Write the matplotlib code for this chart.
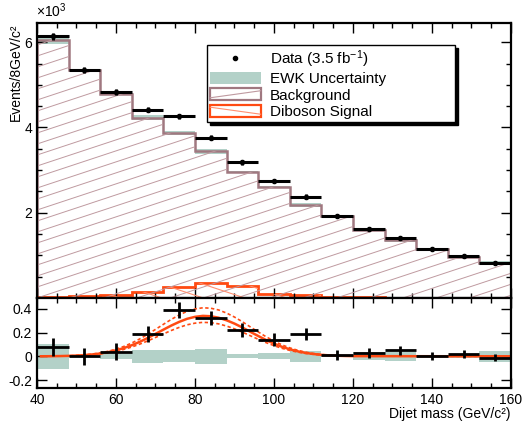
import matplotlib
matplotlib.use('Agg')
import matplotlib.pyplot as plt
from matplotlib.patches import Polygon, Rectangle, Patch
from matplotlib.lines import Line2D
from matplotlib.collections import LineCollection
from matplotlib.legend_handler import HandlerBase
from matplotlib.ticker import MultipleLocator, FuncFormatter
import numpy as np

plt.rcParams['font.family'] = ['Liberation Sans', 'DejaVu Sans']
plt.rcParams['mathtext.fontset'] = 'custom'
plt.rcParams['mathtext.rm'] = 'Liberation Sans'
plt.rcParams['mathtext.it'] = 'Liberation Sans:italic'

# dijet mass bins, 8 GeV wide (GeV/c^2)
bin_edges = [40, 48, 56, 64, 72, 80, 88, 96, 104, 112, 120, 128, 136, 144, 152, 160]
bin_centers = [44, 52, 60, 68, 76, 84, 92, 100, 108, 116, 124, 132, 140, 148, 156]

# events / 8 GeV, in units of 10^3
data = [6.14, 5.34, 4.83, 4.42, 4.26, 3.76, 3.18, 2.74, 2.38, 1.93, 1.63, 1.40, 1.16, 0.98, 0.81]
data_err = [0.078, 0.073, 0.070, 0.066, 0.065, 0.061, 0.056, 0.052, 0.049, 0.044, 0.040, 0.037, 0.034, 0.031, 0.028]
background = [6.06, 5.34, 4.79, 4.23, 3.87, 3.44, 2.96, 2.60, 2.19, 1.92, 1.60, 1.35, 1.155, 0.96, 0.82]
ewk_unc = [0.104, 0.005, 0.02, 0.057, 0.05, 0.062, 0.018, 0.026, 0.048, 0.003, 0.035, 0.037, 0.003, 0.012, 0.048]
diboson = [0.03, 0.05, 0.07, 0.14, 0.26, 0.35, 0.28, 0.10, 0.06, 0.02, 0.015, 0.01, 0.01, 0.01, 0.01]

# fitted diboson shape in the lower panel (data - background)
fit_x = [41, 42, 44, 46, 48, 50, 52, 54, 56, 58, 60, 62, 64, 66, 68, 70, 72, 74, 76, 78, 80,
         82, 84, 86, 88, 90, 92, 94, 96, 98, 100, 102, 104, 106, 108, 110, 112, 114, 116, 118, 120, 160]
fit_y = [0.0005, 0.0007, 0.0012, 0.0022, 0.0038, 0.0063, 0.0101, 0.0158, 0.0239, 0.0351, 0.0502,
         0.0694, 0.0932, 0.1215, 0.1535, 0.1885, 0.2240, 0.2585, 0.2894, 0.3152, 0.3317,
         0.3399, 0.3368, 0.3245, 0.3028, 0.2750, 0.2421, 0.2060, 0.1710, 0.1370, 0.1071,
         0.0803, 0.0592, 0.0422, 0.0288, 0.0196, 0.0124, 0.0080, 0.0048, 0.0029, 0.0016, 0.0]
fit_up, fit_down = 1.2, 0.84

TEAL = '#b3d1c8'
MAUVE = '#a07880'
MAUVE_H = '#bf9aa0'
ORANGE = '#ff4a12'
ORANGE_H = '#ff8f70'


def step_verts(edges, vals):
    v = [(edges[0], 0)]
    for i, y in enumerate(vals):
        v.append((edges[i], y))
        v.append((edges[i + 1], y))
    v.append((edges[-1], 0))
    return v


def hatch_hist(ax, edges, vals, color, slope, step, lw):
    poly = Polygon(step_verts(edges, vals), closed=True, facecolor='none', edgecolor='none')
    ax.add_patch(poly)
    offs = np.arange(-2, 2, step)
    segs = [[(0, o), (1, o + slope)] for o in offs]
    lc = LineCollection(segs, colors=color, linewidths=lw, transform=ax.transAxes)
    ax.add_collection(lc, autolim=False)
    lc.set_clip_path(poly)


class BoxHandler(HandlerBase):
    def __init__(self, edge, hatchcolor, rising):
        super().__init__()
        self.edge = edge
        self.hatchcolor = hatchcolor
        self.rising = rising

    def create_artists(self, legend, orig_handle, xdescent, ydescent, width, height, fontsize, trans):
        x0, y0 = -xdescent, -ydescent
        r = Rectangle((x0, y0), width, height, facecolor='white', edgecolor=self.edge, lw=1.6, transform=trans)
        if self.rising:
            ys = [y0 + height * 0.2, y0 + height * 0.8]
        else:
            ys = [y0 + height * 0.8, y0 + height * 0.2]
        l = Line2D([x0, x0 + width], ys, color=self.hatchcolor, lw=0.8, transform=trans)
        return [r, l]


fig = plt.figure(figsize=(5.32, 4.25), dpi=100)
ax1 = fig.add_axes([0.0695, 0.2988, 0.891, 0.647])
ax2 = fig.add_axes([0.0695, 0.086, 0.891, 0.2128], sharex=ax1)

# ---- main panel
hatch_hist(ax1, bin_edges, background, MAUVE_H, 0.57, 0.04, 0.7)
bk = np.array(background)
ew = np.array(ewk_unc)
ax1.stairs(bk + ew, bin_edges, baseline=bk - ew, fill=True, color=TEAL, lw=0)
ax1.stairs(background, bin_edges, color=MAUVE, lw=1.8)
hatch_hist(ax1, bin_edges, diboson, ORANGE_H, -0.57, 0.05, 0.8)
ax1.stairs(diboson, bin_edges, color=ORANGE, lw=2)
ax1.errorbar(bin_centers, data, xerr=4, yerr=data_err, fmt='o', ms=3, color='k', elinewidth=2.2, capsize=0)

ax1.set_xlim(40, 160)
ax1.set_ylim(0, 6.45)
ax1.set_ylabel('Events/8GeV/c\u00b2', loc='top', fontsize=10, labelpad=1)
ax1.yaxis.set_major_locator(MultipleLocator(2))
ax1.yaxis.set_minor_locator(MultipleLocator(0.5))
ax1.yaxis.set_major_formatter(FuncFormatter(lambda v, p: '' if v == 0 else '%g' % v))
ax1.tick_params(axis='x', labelbottom=False)
fig.text(0.068, 0.953, '\u00d710$^3$', fontsize=10, ha='left', va='bottom')

data_h = Line2D([], [], marker='o', ms=3, color='k', ls='none')
ewk_h = Patch(facecolor=TEAL, edgecolor='none')
bkg_h = Patch()
sig_h = Patch()
labels = ['Data (3.5 fb$^{-1}$)', 'EWK Uncertainty', 'Background', 'Diboson Signal']
leg = ax1.legend([data_h, ewk_h, bkg_h, sig_h], labels,
                 handler_map={bkg_h: BoxHandler(MAUVE, MAUVE_H, True),
                              sig_h: BoxHandler(ORANGE, ORANGE_H, False)},
                 loc='upper left', bbox_to_anchor=(0.359, 0.0, 0.523, 0.92), mode='expand',
                 fontsize=11, handlelength=3.3, handleheight=0.8, handletextpad=0.6,
                 labelspacing=0.15, borderpad=0.2, fancybox=False, framealpha=1,
                 shadow={'color': 'black', 'alpha': 1}, borderaxespad=0)
leg.get_frame().set_edgecolor('black')
leg.get_frame().set_linewidth(1.0)

# ---- lower panel: data - background
diff = np.array(data) - bk
ax2.stairs(ew, bin_edges, baseline=-ew, fill=True, color=TEAL, lw=0)
fy = np.array(fit_y)
ax2.plot(fit_x, fy * fit_up, color=ORANGE, lw=1.2, ls=(0, (2, 1.5)))
ax2.plot(fit_x, fy * fit_down, color=ORANGE, lw=1.2, ls=(0, (2, 1.5)))
ax2.plot(fit_x, fy, color=ORANGE, lw=1.8)
ax2.errorbar(bin_centers, diff, xerr=4, yerr=data_err, fmt='none', color='k', elinewidth=2, capsize=0)

ax2.set_ylim(-0.27, 0.49)
ax2.yaxis.set_major_locator(MultipleLocator(0.2))
ax2.yaxis.set_major_formatter(FuncFormatter(lambda v, p: '0' if abs(v) < 1e-9 else '%.1f' % v))
ax2.set_xlabel('Dijet mass (GeV/c\u00b2)', loc='right', fontsize=10, labelpad=0)
ax2.xaxis.set_major_locator(MultipleLocator(20))
ax2.xaxis.set_minor_locator(MultipleLocator(5))

for ax in (ax1, ax2):
    for s in ax.spines.values():
        s.set_linewidth(1.6)
    ax.tick_params(which='both', direction='in', top=True, right=True, labelsize=10)
    ax.tick_params(which='major', length=7, width=1)
    ax.tick_params(which='minor', length=3.5, width=1)

plt.savefig('out.png', dpi=100)
